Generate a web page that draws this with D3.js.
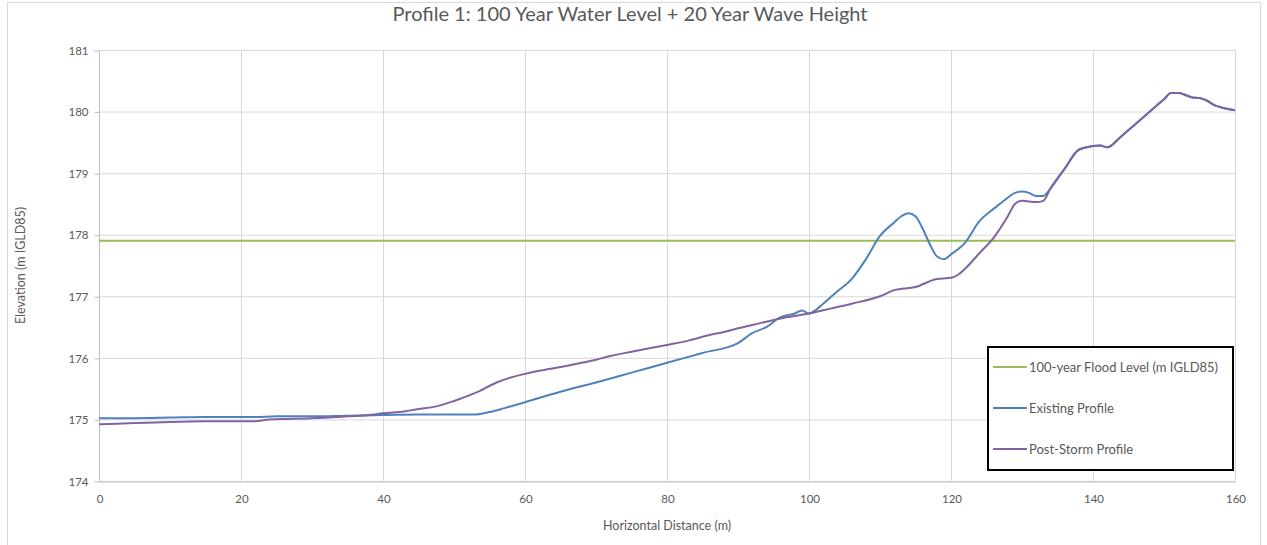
<!DOCTYPE html>
<html><head><meta charset="utf-8">
<script src="https://cdn.jsdelivr.net/npm/d3@7"></script>
<style>
html,body{margin:0;padding:0;background:#fff;}
svg{display:block;font-family:Lato,"Open Sans",sans-serif;}
</style></head>
<body><svg id="c" width="1267" height="545"></svg>
<script>
const title = "Profile 1: 100 Year Water Level + 20 Year Wave Height";
const xTitle = "Horizontal Distance (m)";
const yTitle = "Elevation (m IGLD85)";
const seriesNames = ["100-year Flood Level (m IGLD85)", "Existing Profile", "Post-Storm Profile"];
const seriesColors = ["#9BBB59", "#4F81BD", "#8064A2"];
const xTicks = [0,20,40,60,80,100,120,140,160];
const yTicks = [174,175,176,177,178,179,180,181];

const floodX = [0, 160];
const floodY = [177.9, 177.9];

const existingX = [0,5,10,15,20,22,25,30,35,40,45,50,53,55,57,60,65,70,75,80,85,90,92,94,96,98,99,100,101,102,104,106,108,110,112,113,114,115,116,117,118,119,120,122,124,126,128,129,130,131,132,133,134,136,138,140,141,142,144,146,148,150,151,152,153,154,155,156,157,158,160];
const existingY = [175.02,175.02,175.03,175.04,175.04,175.04,175.05,175.05,175.06,175.07,175.08,175.08,175.08,175.12,175.18,175.28,175.45,175.6,175.76,175.92,176.08,176.24,176.4,176.5,176.66,176.72,176.77,176.72,176.78,176.88,177.08,177.28,177.6,177.98,178.2,178.3,178.35,178.3,178.1,177.85,177.65,177.6,177.68,177.87,178.22,178.42,178.6,178.68,178.7,178.68,178.63,178.63,178.75,179.07,179.38,179.44,179.45,179.42,179.6,179.8,180.0,180.2,180.3,180.3,180.27,180.23,180.22,180.18,180.11,180.07,180.02];

const postX = [0,5,10,15,20,22,24,30,35,38,40,43,45,47,50,53,56,58,60,62,65,68,70,72,75,80,83,86,88,90,93,96,100,103,106,110,112,115,118,120,121,122,124,126,128,129,130,132,133,134,136,138,140,141,142,144,146,148,150,151,152,153,154,155,156,157,158,160];
const postY = [174.92,174.94,174.96,174.97,174.97,174.97,175.0,175.02,175.05,175.07,175.1,175.13,175.17,175.2,175.3,175.43,175.6,175.68,175.74,175.79,175.85,175.92,175.97,176.03,176.1,176.21,176.28,176.37,176.42,176.48,176.56,176.64,176.72,176.8,176.88,177.0,177.1,177.15,177.28,177.3,177.35,177.45,177.7,177.95,178.3,178.5,178.55,178.53,178.55,178.75,179.07,179.38,179.44,179.45,179.42,179.6,179.8,180.0,180.2,180.3,180.3,180.27,180.23,180.22,180.18,180.11,180.07,180.02];

const svg = d3.select("#c");
const W = 1267, H = 545;
const m = {left: 99, right: 1235, top: 50, bottom: 481};
const x = d3.scaleLinear().domain([0,160]).range([m.left, m.right]);
const y = d3.scaleLinear().domain([174,181]).range([m.bottom, m.top]);
const grey = "#595959";

svg.append("rect").attr("x",7.5).attr("y",2.5).attr("width",W-14).attr("height",H+10)
  .attr("fill","#fff").attr("stroke","#d9d9d9");

// gridlines
svg.append("g").selectAll("line").data(yTicks).join("line")
  .attr("x1",m.left).attr("x2",m.right).attr("y1",d=>y(d)+0.5).attr("y2",d=>y(d)+0.5)
  .attr("stroke","#d9d9d9").attr("stroke-width",1);
svg.append("g").selectAll("line").data(xTicks).join("line")
  .attr("y1",m.top).attr("y2",m.bottom).attr("x1",d=>x(d)+0.5).attr("x2",d=>x(d)+0.5)
  .attr("stroke","#d9d9d9").attr("stroke-width",1);

// axes
const yAxis = d3.axisLeft(y).tickValues(yTicks).tickSize(5).tickPadding(6).tickFormat(d3.format("d"));
const gy = svg.append("g").attr("transform",`translate(${m.left+0.5},0.5)`).call(yAxis);
gy.select(".domain").attr("stroke","#bfbfbf").attr("d",`M0,${m.top}V${m.bottom}`);
gy.selectAll(".tick line").attr("stroke","#bfbfbf");
gy.selectAll("text").attr("fill",grey).style("font-size","11.5px").style("font-family","Lato");

const xAxis = d3.axisBottom(x).tickValues(xTicks).tickSize(0).tickPadding(13).tickFormat(d3.format("d"));
const gx = svg.append("g").attr("transform",`translate(0.5,${m.bottom+0.5})`).call(xAxis);
gx.select(".domain").attr("stroke","#bfbfbf");
gx.selectAll("text").attr("fill",grey).style("font-size","11.5px").style("font-family","Lato");

// lines
const line = d3.line().x(d=>x(d[0])).y(d=>y(d[1])).curve(d3.curveMonotoneX);
const series = [
  d3.zip(floodX, floodY),
  d3.zip(existingX, existingY),
  d3.zip(postX, postY)
];
series.forEach((s,i)=>{
  svg.append("path").datum(s).attr("d",line).attr("fill","none")
    .attr("stroke",seriesColors[i]).attr("stroke-width",2).attr("stroke-linejoin","round");
});

// titles
svg.append("text").attr("x",630).attr("y",21).attr("text-anchor","middle")
  .attr("fill",grey).style("font-size","20px").text(title);
svg.append("text").attr("x",(m.left+m.right)/2).attr("y",530).attr("text-anchor","middle")
  .attr("fill",grey).style("font-size","12.5px").text(xTitle);
svg.append("text").attr("transform",`translate(25,${(m.top+m.bottom)/2}) rotate(-90)`)
  .attr("text-anchor","middle").attr("fill",grey).style("font-size","12.5px").text(yTitle);

// legend
const lg = svg.append("g");
lg.append("rect").attr("x",988).attr("y",347).attr("width",245).attr("height",123)
  .attr("fill","#fff").attr("stroke","#000").attr("stroke-width",2);
const ly = [367, 408, 449];
seriesNames.forEach((n,i)=>{
  lg.append("line").attr("x1",993).attr("x2",1027).attr("y1",ly[i]).attr("y2",ly[i])
    .attr("stroke",seriesColors[i]).attr("stroke-width",2);
  lg.append("text").attr("x",1029).attr("y",ly[i]+4.5).attr("fill",grey)
    .style("font-size","13px").text(n);
});
</script></body></html>
